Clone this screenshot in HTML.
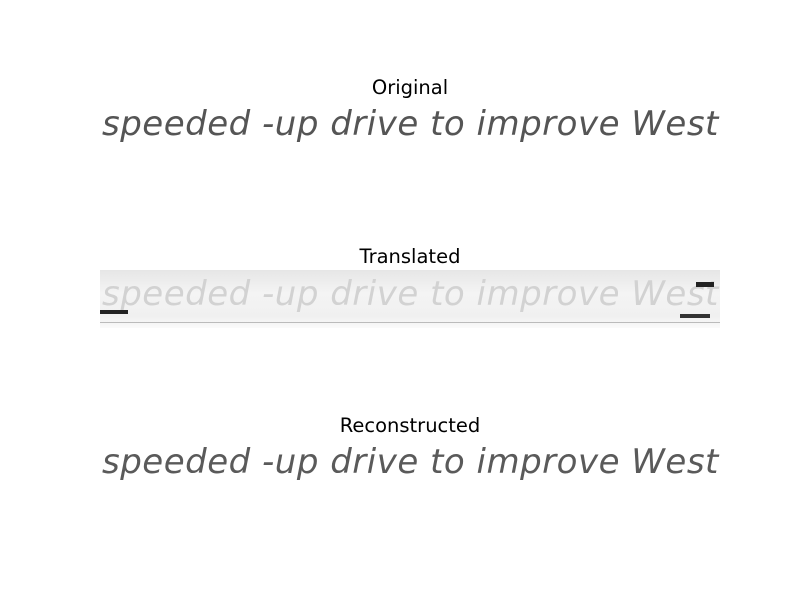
<!DOCTYPE html>
<html><head><meta charset="utf-8"><style>
body{margin:0;background:#fff;width:800px;height:600px;position:relative;overflow:hidden;font-family:"DejaVu Sans",sans-serif}
.t{position:absolute;left:0;width:820px;text-align:center;font-size:19.5px;color:#000}
.img{position:absolute;left:100px;width:620px;height:58px;overflow:hidden;background:#fff}
.hw{position:absolute;left:2px;top:4px;font-style:italic;font-size:34px;letter-spacing:0.5px;white-space:nowrap;font-family:"DejaVu Sans",sans-serif;font-weight:200}
</style></head><body>
<div class="t" style="top:76px">Original</div>
<div class="img" style="top:100px">
 <div class="hw" style="color:#555">speeded -up drive to improve West</div>
</div>
<div class="t" style="top:245px">Translated</div>
<div class="img" style="top:270px;background:linear-gradient(#e6e6e6,#f4f4f4 40%,#f0f0f0 80%,#fafafa);">
 <div class="hw" style="color:#d2d2d2">speeded -up drive to improve West</div>
 <div style="position:absolute;left:0;top:52px;width:620px;height:1px;background:#bbb"></div>
 <div style="position:absolute;left:0;top:40px;width:28px;height:4px;background:#222"></div>
 <div style="position:absolute;left:596px;top:12px;width:18px;height:5px;background:#222"></div>
 <div style="position:absolute;left:580px;top:44px;width:30px;height:4px;background:#333"></div>
</div>
<div class="t" style="top:414px">Reconstructed</div>
<div class="img" style="top:438px">
 <div class="hw" style="color:#5a5a5a">speeded -up drive to improve West</div>
</div>
</body></html>
